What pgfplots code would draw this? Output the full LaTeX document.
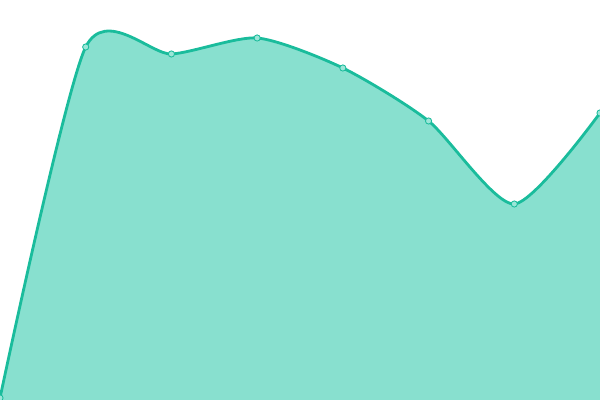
\documentclass[border=0pt]{standalone}
\usepackage{pgfplots}
\pgfplotsset{compat=1.18}
\definecolor{areafill}{HTML}{88E0CF}
\definecolor{arealine}{HTML}{1ABC9C}
\definecolor{markfill}{HTML}{9CE6D8}
\begin{document}
\begin{tikzpicture}
\useasboundingbox (0,0) rectangle (15cm,10cm);
\begin{axis}[
    at={(0,0)}, anchor=south west,
    scale only axis,
    width=15cm, height=10cm,
    xmin=0, xmax=7,
    ymin=0, ymax=400,
    hide axis,
    clip marker paths=true,
]
\addplot[smooth, tension=0.42, fill=areafill, draw=none] coordinates {
    (0,2) (1,353) (2,346) (3,362) (4,332) (5,279) (6,196) (7,287)
} \closedcycle;
\addplot[smooth, tension=0.42, arealine, line width=2pt, mark=*,
    mark size=2.2pt, mark options={fill=markfill, draw=arealine, line width=0.6pt}] coordinates {
    (0,2) (1,353) (2,346) (3,362) (4,332) (5,279) (6,196) (7,287)
};
\end{axis}
\end{tikzpicture}
\end{document}
